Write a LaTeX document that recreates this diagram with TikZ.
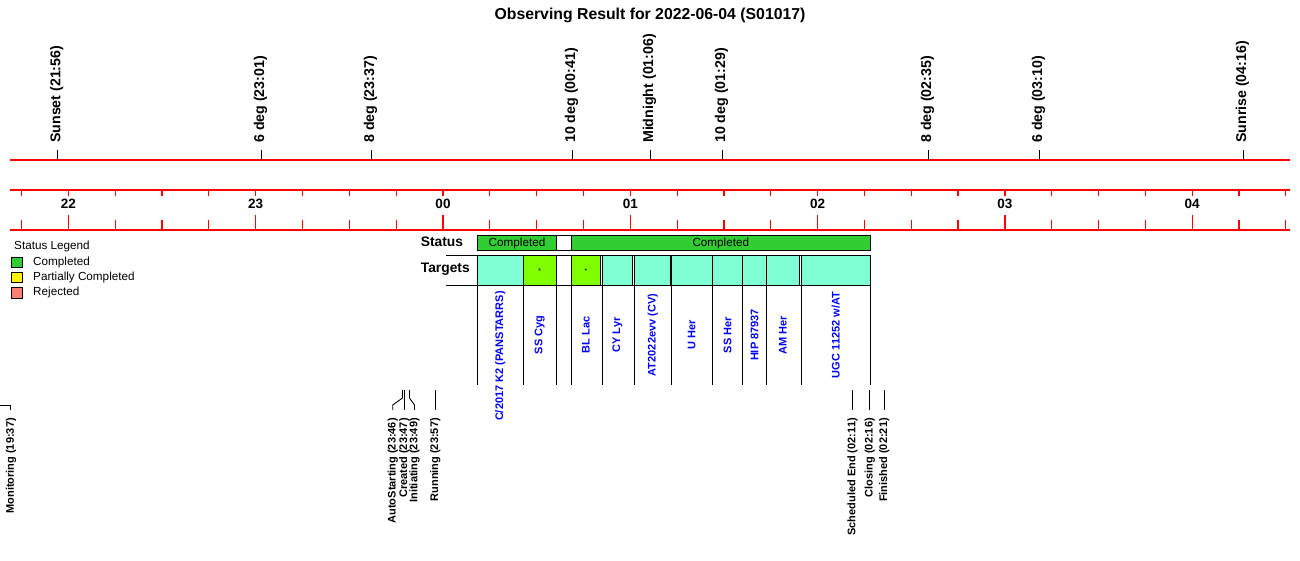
\documentclass[tikz,border=0pt]{standalone}
\usepackage{fontspec}
\setmainfont{Liberation Sans}
\definecolor{stgreen}{RGB}{50,205,50}
\definecolor{aquam}{RGB}{127,255,212}
\definecolor{lgreen}{RGB}{127,255,0}
\definecolor{salm}{RGB}{250,128,114}
\begin{document}
\begin{tikzpicture}[x=1pt,y=-1pt,
  redl/.style={draw=red, line width=1.2pt},
  tk/.style={draw=black, line width=0.9pt},
  evtop/.style={rotate=90, anchor=west, inner sep=0pt, font=\fontsize{14.2}{14.2}\selectfont\bfseries},
  evbot/.style={rotate=90, anchor=east, inner sep=0pt, font=\fontsize{11}{11}\selectfont\bfseries},
  tgt/.style={rotate=90, inner sep=0pt, text=blue, font=\fontsize{11}{11}\selectfont\bfseries},
  hr/.style={inner sep=0pt, font=\fontsize{13.5}{13.5}\selectfont\bfseries},
  rowlab/.style={anchor=west, inner sep=0pt, font=\fontsize{13.8}{13.8}\selectfont\bfseries},
  leg/.style={anchor=west, inner sep=0pt, font=\fontsize{11.7}{11.7}\selectfont},
  legbox/.style={draw=black, line width=0.8pt},
  stbox/.style={draw=black, line width=0.9pt, fill=stgreen},
  cell/.style={draw=black, line width=0.9pt},
  sttxt/.style={inner sep=0pt, font=\fontsize{11.7}{11.7}\selectfont},
  star/.style={inner sep=0pt, font=\fontsize{7}{7}\selectfont}
]
\useasboundingbox (0,0) rectangle (1300,560);

% title
\node[inner sep=0pt, font=\fontsize{15.8}{15.8}\selectfont\bfseries] (title) at (650,15) {Observing Result for 2022-06-04 (S01017)};

% red axis lines
\draw[redl] (10,160) -- (1290,160);
\draw[redl] (10,190) -- (1290,190);
\draw[redl] (10,230) -- (1290,230);

% quarter-hour ticks
\foreach \i in {0,...,27} {
  \pgfmathsetmacro{\xx}{443+187.3*(-2.25+0.25*\i)}
  \draw[redl] (\xx,190) -- (\xx,196);
  \draw[redl] (\xx,220) -- (\xx,230);
}
% hour ticks and labels
\foreach \h/\lab in {-2/22,-1/23,0/00,1/01,2/02,3/03,4/04} {
  \pgfmathsetmacro{\xx}{443+187.3*\h}
  \draw[redl] (\xx,215) -- (\xx,220);
  \node[hr] (hour\lab) at (\xx,204) {\lab};
}

% top events
\foreach \xx/\lab/\nm in {57.5/{Sunset (21:56)}/sunset, 261.3/{6 deg (23:01)}/sixa, 371.3/{8 deg (23:37)}/eighta, 572.3/{10 deg (00:41)}/tena, 650.3/{Midnight (01:06)}/midnight, 722.3/{10 deg (01:29)}/tenb, 928.3/{8 deg (02:35)}/eightb, 1039.3/{6 deg (03:10)}/sixb, 1243.3/{Sunrise (04:16)}/sunrise} {
  \draw[tk] (\xx,150) -- (\xx,160);
  \node[evtop] (ev\nm) at (\xx-0.8,143) {\lab};
}

% legend
\node[leg] (legtitle) at (14,246) {Status Legend};
\draw[legbox, fill=stgreen] (11,257) rectangle (22,267.5);
\draw[legbox, fill=yellow] (11,272.3) rectangle (22,282.7);
\draw[legbox, fill=salm] (11,287.7) rectangle (22,298);
\node[leg] (legc) at (33,262) {Completed};
\node[leg] (legp) at (33,277.5) {Partially Completed};
\node[leg] (legr) at (33,292.5) {Rejected};

% status row
\node[rowlab] (statuslab) at (420.7,241.3) {Status};
\draw[stbox] (477.3,235) rectangle (556.7,250.7);
\draw[draw=black, line width=0.9pt] (556.7,235) rectangle (571.3,250.7);
\draw[stbox] (571.3,235) rectangle (870.3,250.7);
\node[sttxt] (st1) at (517,243) {Completed};
\node[sttxt] (st2) at (720.8,243) {Completed};

% targets row
\node[rowlab] (targetslab) at (420.7,269.3) {Targets};
\draw[tk] (446,255.7) -- (870.3,255.7);
\draw[tk] (446,285.3) -- (870.3,285.3);
\foreach \a/\b/\c in {477.3/523.3/aquam, 523.3/556.3/lgreen, 571.3/600.7/lgreen, 602/632.5/aquam, 634/670/aquam, 671/712.3/aquam, 712.3/742.7/aquam, 742.7/766.3/aquam, 766.3/799.7/aquam, 801.3/870.3/aquam} {
  \draw[cell, fill=\c] (\a,255.7) rectangle (\b,285.3);
}
\draw[tk] (556.3,255.7) -- (556.3,285.3);
\node[star] (star1) at (539.8,271) {*};
\node[star] (star2) at (586,271) {*};

% separators below targets
\foreach \xx in {477.3,523.3,556.3,571.3,602,634,671,712.3,742.7,766.3,801.3,870.3} {
  \draw[tk] (\xx,285.3) -- (\xx,385);
}

% target labels
\node[tgt, anchor=east] (t1) at (500.3,291) {C/2017 K2 (PANSTARRS)};
\node[tgt] (t2) at (539.8,335) {SS Cyg};
\node[tgt] (t3) at (586,335) {BL Lac};
\node[tgt] (t4) at (617.3,335) {CY Lyr};
\node[tgt] (t5) at (652.7,335) {AT2022evv (CV)};
\node[tgt] (t6) at (691.7,335) {U Her};
\node[tgt] (t7) at (727.5,335) {SS Her};
\node[tgt] (t8) at (754.5,335) {HIP 87937};
\node[tgt] (t9) at (783,335) {AM Her};
\node[tgt] (t10) at (835.8,335) {UGC 11252 w/AT};

% bottom events
\coordinate (mon0) at (0,405);
\draw[tk] (mon0) -- (10.5,405) -- (10.5,410);
\node[evbot] (monitoring) at (11,418) {Monitoring (19:37)};

\draw[tk] (402.5,390) -- (402.5,398) -- (392.7,405) -- (392.7,410);
\node[evbot] (autostart) at (392.7,418) {AutoStarting (23:46)};
\draw[tk] (404.5,390) -- (404.5,410);
\node[evbot] (created) at (404.3,418) {Created (23:47)};
\draw[tk] (409.5,390) -- (409.5,398) -- (414.5,405) -- (414.5,410);
\node[evbot] (initiating) at (414.5,418) {Initiating (23:49)};
\draw[tk] (435,390) -- (435,410);
\node[evbot] (running) at (435.3,418) {Running (23:57)};

\draw[tk] (852.5,390) -- (852.5,410);
\node[evbot] (schedend) at (852.5,418) {Scheduled End (02:11)};
\draw[tk] (869.8,390) -- (869.8,410);
\node[evbot] (closing) at (869.8,418) {Closing (02:16)};
\draw[tk] (884.3,390) -- (884.3,410);
\node[evbot] (finished) at (884.3,418) {Finished (02:21)};
\end{tikzpicture}
\end{document}
